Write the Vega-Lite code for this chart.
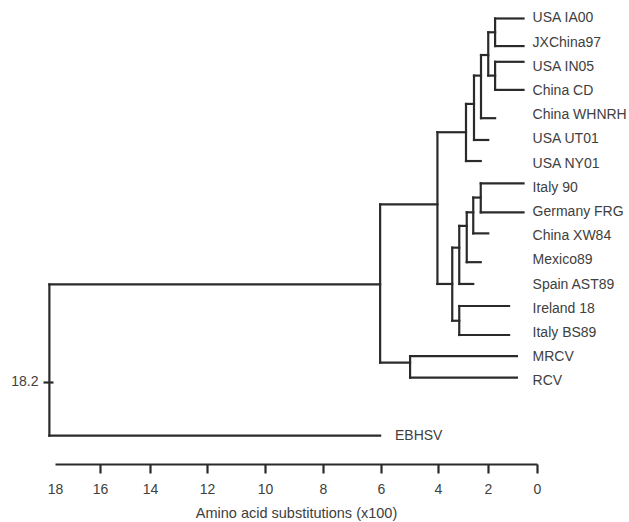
{
  "$schema": "https://vega.github.io/schema/vega-lite/v6.json",
  "width": 576,
  "height": 464,
  "autosize": {"type": "none"},
  "padding": {"left": 53, "top": 0, "right": 0, "bottom": 58},
  "background": "white",
  "config": {"view": {"stroke": null}, "font": "Liberation Sans"},
  "datasets": {
    "horizontal": [
      {"edge": "USA IA00", "row": 0, "from": 1.71, "to": 0.55},
      {"edge": "JXChina97", "row": 1.14, "from": 1.71, "to": 0.55},
      {"edge": "A", "row": 0.57, "from": 1.99, "to": 1.71},
      {"edge": "USA IN05", "row": 1.79, "from": 1.71, "to": 0.55},
      {"edge": "China CD", "row": 2.95, "from": 1.71, "to": 0.55},
      {"edge": "B", "row": 2.36, "from": 1.99, "to": 1.71},
      {"edge": "C", "row": 1.51, "from": 2.28, "to": 1.99},
      {"edge": "China WHNRH", "row": 4.12, "from": 2.28, "to": 1.71},
      {"edge": "D", "row": 2.36, "from": 2.56, "to": 2.28},
      {"edge": "USA UT01", "row": 5.02, "from": 2.56, "to": 1.99},
      {"edge": "E", "row": 3.53, "from": 2.88, "to": 2.56},
      {"edge": "USA NY01", "row": 5.89, "from": 2.88, "to": 2.29},
      {"edge": "F", "row": 4.7, "from": 4.02, "to": 2.88},
      {"edge": "Italy 90", "row": 6.81, "from": 2.29, "to": 0.55},
      {"edge": "Germany FRG", "row": 8.01, "from": 2.29, "to": 0.55},
      {"edge": "G", "row": 7.4, "from": 2.59, "to": 2.29},
      {"edge": "China XW84", "row": 8.88, "from": 2.59, "to": 1.99},
      {"edge": "H", "row": 8.01, "from": 2.85, "to": 2.59},
      {"edge": "Mexico89", "row": 10.07, "from": 2.85, "to": 2.29},
      {"edge": "I", "row": 8.57, "from": 3.15, "to": 2.85},
      {"edge": "Spain AST89", "row": 10.97, "from": 3.15, "to": 2.59},
      {"edge": "J", "row": 9.47, "from": 3.43, "to": 3.15},
      {"edge": "Ireland 18", "row": 11.88, "from": 3.15, "to": 1.14},
      {"edge": "Italy BS89", "row": 13.08, "from": 3.15, "to": 1.14},
      {"edge": "K", "row": 12.49, "from": 3.43, "to": 3.15},
      {"edge": "L", "row": 10.97, "from": 4.02, "to": 3.43},
      {"edge": "M", "row": 7.68, "from": 6.03, "to": 4.02},
      {"edge": "MRCV", "row": 13.95, "from": 4.98, "to": 0.82},
      {"edge": "RCV", "row": 14.84, "from": 4.98, "to": 0.82},
      {"edge": "N", "row": 14.22, "from": 6.03, "to": 4.98},
      {"edge": "O", "row": 10.99, "from": 18.25, "to": 6.03},
      {"edge": "EBHSV", "row": 17.24, "from": 18.25, "to": 6.03}
    ],
    "vertical": [
      {"node": "A", "dist": 1.71, "top": 0, "bottom": 1.14},
      {"node": "B", "dist": 1.71, "top": 1.79, "bottom": 2.95},
      {"node": "C", "dist": 1.99, "top": 0.57, "bottom": 2.36},
      {"node": "D", "dist": 2.28, "top": 1.51, "bottom": 4.12},
      {"node": "E", "dist": 2.56, "top": 2.36, "bottom": 5.02},
      {"node": "F", "dist": 2.88, "top": 3.53, "bottom": 5.89},
      {"node": "G", "dist": 2.29, "top": 6.81, "bottom": 8.01},
      {"node": "H", "dist": 2.59, "top": 7.4, "bottom": 8.88},
      {"node": "I", "dist": 2.85, "top": 8.01, "bottom": 10.07},
      {"node": "J", "dist": 3.15, "top": 8.57, "bottom": 10.97},
      {"node": "K", "dist": 3.15, "top": 11.88, "bottom": 13.08},
      {"node": "L", "dist": 3.43, "top": 9.47, "bottom": 12.49},
      {"node": "M", "dist": 4.02, "top": 4.7, "bottom": 10.97},
      {"node": "N", "dist": 4.98, "top": 13.95, "bottom": 14.84},
      {"node": "O", "dist": 6.03, "top": 7.68, "bottom": 14.22},
      {"node": "root", "dist": 18.25, "top": 10.99, "bottom": 17.24}
    ],
    "labels": [
      {"name": "USA IA00", "row": 0},
      {"name": "JXChina97", "row": 1},
      {"name": "USA IN05", "row": 2},
      {"name": "China CD", "row": 3},
      {"name": "China WHNRH", "row": 4},
      {"name": "USA UT01", "row": 5},
      {"name": "USA NY01", "row": 6},
      {"name": "Italy 90", "row": 7},
      {"name": "Germany FRG", "row": 8},
      {"name": "China XW84", "row": 9},
      {"name": "Mexico89", "row": 10},
      {"name": "Spain AST89", "row": 11},
      {"name": "Ireland 18", "row": 12},
      {"name": "Italy BS89", "row": 13},
      {"name": "MRCV", "row": 14},
      {"name": "RCV", "row": 15},
      {"name": "EBHSV", "row": 17.24}
    ]
  },
  "layer": [
    {
      "data": {"name": "horizontal"},
      "mark": {"type": "rule", "strokeWidth": 2.2, "color": "#2a2a2a", "strokeCap": "square"},
      "encoding": {
        "x": {
          "field": "from",
          "type": "quantitative",
          "title": "Amino acid substitutions (x100)",
          "scale": {
            "domain": [18, 16, 14, 12, 10, 8, 6, 4, 2, 0],
            "range": [2, 47, 97, 154, 212, 270, 328, 385, 435, 484],
            "nice": false,
            "zero": false
          },
          "axis": {
            "values": [18, 16, 14, 12, 10, 8, 6, 4, 2, 0],
            "grid": false,
            "labelFlush": false,
            "labelOverlap": false,
            "labelFontSize": 14,
            "labelColor": "#404040",
            "labelPadding": 9,
            "tickSize": 9,
            "tickWidth": 2.2,
            "tickColor": {"condition": {"test": "datum.value === 18", "value": "transparent"}, "value": "#2a2a2a"},
            "domainWidth": 2.2,
            "domainColor": "#2a2a2a",
            "titleFontSize": 14.5,
            "titleFontWeight": "normal",
            "titleColor": "#404040",
            "titlePadding": 10
          }
        },
        "x2": {"field": "to"},
        "y": {
          "field": "row",
          "type": "quantitative",
          "title": null,
          "scale": {"domain": [-0.764, 18.41], "reverse": true, "nice": false, "zero": false},
          "axis": {
            "values": [15.02],
            "labelExpr": "'18.2'",
            "grid": false,
            "domain": false,
            "tickSize": 10,
            "tickWidth": 2.2,
            "tickColor": "#2a2a2a",
            "labelFontSize": 14,
            "labelColor": "#404040",
            "labelPadding": 5
          }
        }
      }
    },
    {
      "data": {"name": "vertical"},
      "mark": {"type": "rule", "strokeWidth": 2.2, "color": "#2a2a2a", "strokeCap": "square"},
      "encoding": {
        "x": {"field": "dist", "type": "quantitative", "title": "Amino acid substitutions (x100)"},
        "y": {"field": "top", "type": "quantitative", "title": null},
        "y2": {"field": "bottom"}
      }
    },
    {
      "data": {"name": "labels"},
      "transform": [{"filter": "datum.name !== 'EBHSV'"}],
      "mark": {"type": "text", "align": "left", "baseline": "middle", "fontSize": 14, "color": "#404040"},
      "encoding": {
        "x": {"datum": 0.18, "type": "quantitative"},
        "y": {"field": "row", "type": "quantitative", "title": null},
        "text": {"field": "name"}
      }
    },
    {
      "data": {"name": "labels"},
      "transform": [{"filter": "datum.name === 'EBHSV'"}],
      "mark": {"type": "text", "align": "left", "baseline": "middle", "fontSize": 14, "color": "#404040"},
      "encoding": {
        "x": {"datum": 5.51, "type": "quantitative"},
        "y": {"field": "row", "type": "quantitative", "title": null},
        "text": {"field": "name"}
      }
    }
  ]
}
